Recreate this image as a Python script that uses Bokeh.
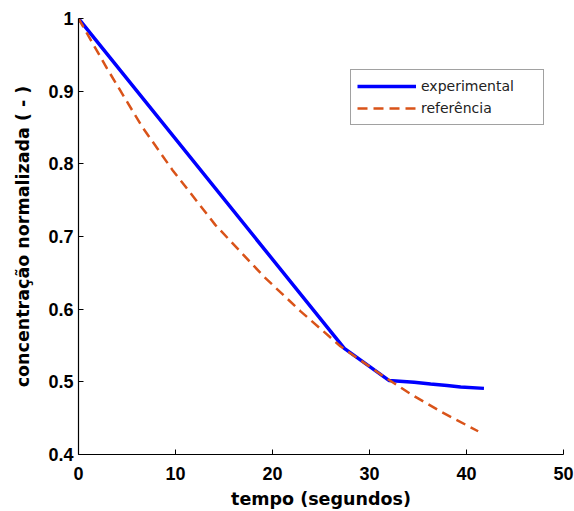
from bokeh.plotting import figure
from bokeh.models import FixedTicker, Legend, LegendItem, Range1d
from bokeh.embed import file_html
from bokeh.resources import INLINE

# experimental curve (tempo in s, normalised concentration)
exp_t = [0.0, 27.4, 32.0, 34.6, 36.3, 38.0, 39.4, 41.8]
exp_c = [1.0, 0.546, 0.502, 0.4995, 0.497, 0.495, 0.493, 0.491]

# reference curve
ref_t = [0.0, 2.95, 6.56, 9.66, 14.1, 19.1, 22.9, 27.0, 31.5, 34.4, 37.5, 41.2]
ref_c = [1.0, 0.931, 0.851, 0.792, 0.716, 0.645, 0.597, 0.549, 0.507, 0.482, 0.458, 0.432]

x_ticks = [0, 10, 20, 30, 40, 50]
y_ticks = [0.4, 0.5, 0.6, 0.7, 0.8, 0.9, 1.0]
y_tick_labels = ["0.4", "0.5", "0.6", "0.7", "0.8", "0.9", "1"]

p = figure(width=574, height=511, output_backend="svg", toolbar_location=None,
           x_range=Range1d(0, 50), y_range=Range1d(0.4, 1.0),
           min_border_left=78, min_border_right=11, min_border_top=18, min_border_bottom=56)

p.background_fill_color = "white"
p.border_fill_color = "white"
p.outline_line_color = None
p.grid.visible = False

r1 = p.line(exp_t, exp_c, line_color="#0000FF", line_width=3.5)
r2 = p.line(ref_t, ref_c, line_color="#D95319", line_width=2.5, line_dash="10 6")

for ax in (p.xaxis[0], p.yaxis[0]):
    ax.axis_line_color = "black"
    ax.axis_line_width = 1.2
    ax.major_tick_in = 5
    ax.major_tick_out = 0
    ax.major_tick_line_color = "black"
    ax.minor_tick_line_color = None
    ax.major_label_text_font = "Liberation Sans"
    ax.major_label_text_font_style = "bold"
    ax.major_label_text_font_size = "18px"
    ax.major_label_text_color = "black"
    ax.axis_label_text_color = "black"
    ax.axis_label_text_font = "DejaVu Sans"
    ax.axis_label_text_font_style = "bold"
    ax.axis_label_text_font_size = "17.5px"

p.xaxis.ticker = FixedTicker(ticks=x_ticks)
p.yaxis.ticker = FixedTicker(ticks=y_ticks)
p.yaxis.major_label_overrides = {t: l for t, l in zip(y_ticks, y_tick_labels)}

p.xaxis.axis_label = "tempo (segundos)"
p.xaxis.major_label_standoff = 12
p.xaxis.axis_label_standoff = 6

p.yaxis.axis_label = "concentração normalizada ( - )"
p.yaxis.major_label_standoff = 5
p.yaxis.axis_label_standoff = 12

legend = Legend(items=[LegendItem(label="experimental", renderers=[r1]),
                       LegendItem(label="referência", renderers=[r2])],
                location=(272, 329), padding=6, spacing=2, margin=0,
                glyph_width=59, glyph_height=20, label_height=20, label_width=116,
                label_standoff=5, border_line_color="#444444", border_line_width=1,
                label_text_font="DejaVu Sans", label_text_font_size="14px",
                label_text_color="#222222", background_fill_color="white",
                background_fill_alpha=1.0)
p.add_layout(legend)

open("out.html", "w").write(file_html(p, INLINE))
